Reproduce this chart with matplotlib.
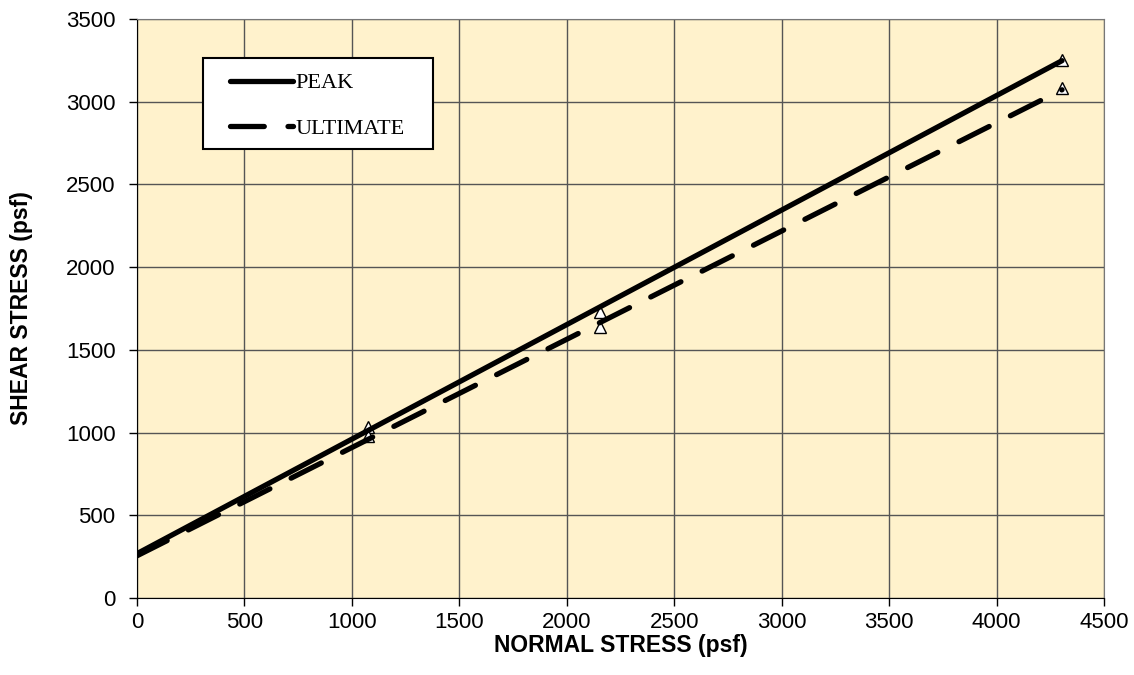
import matplotlib.pyplot as plt
from matplotlib.patches import Rectangle

# measured test points (normal stress vs shear stress, psf)
normal = [1075, 2155, 4305]
peak = [1034, 1729, 3252]
ultimate = [979, 1638, 3083]

# strength envelopes (straight line fits)
env_x = [0, 4305]
peak_env = [268, 3248]
ult_env = [255, 3072]

fig = plt.figure(figsize=(11.34, 6.75), dpi=100)
ax = fig.add_axes([0.1208, 0.1141, 0.8527, 0.8578])
ax.set_facecolor('#FFF2CC')

ax.plot(env_x, peak_env, color='black', lw=3.8, solid_capstyle='round',
        label='PEAK', zorder=4)
ax.plot(env_x, ult_env, color='black', lw=3.8, dashes=(6.4, 4.5),
        dash_capstyle='round', label='ULTIMATE', zorder=4)
ax.plot(normal, peak, ls='none', marker='^', ms=9, mfc='white', mec='black',
        mew=1, zorder=3)
ax.plot(normal, ultimate, ls='none', marker='^', ms=9, mfc='white', mec='black',
        mew=1, zorder=3)

ax.set_xlim(0, 4500)
ax.set_ylim(0, 3500)
ax.set_xticks(range(0, 4501, 500))
ax.set_yticks(range(0, 3501, 500))
ax.grid(True, color='#555555', lw=1)
ax.set_axisbelow(True)
for s in ['top', 'right']:
    ax.spines[s].set_color('#777777')
for s in ['left', 'bottom']:
    ax.spines[s].set_color('black')
ax.tick_params(direction='out', length=6, width=1, labelsize=16)
ax.tick_params(axis='x', pad=4)
ax.tick_params(axis='y', pad=9.5)
for t in ax.get_xticklabels() + ax.get_yticklabels():
    t.set_fontfamily('Liberation Sans')

ax.set_xlabel('NORMAL STRESS (psf)', fontsize=16.5, fontweight='bold',
              family='Liberation Sans', labelpad=1)
ax.set_ylabel('SHEAR STRESS (psf)', fontsize=16.5, fontweight='bold',
              family='Liberation Sans', labelpad=24)

# legend frame drawn separately so its padding matches
frame = Rectangle((0.0683, 0.7755), 0.2378, 0.1571, transform=ax.transAxes,
                  facecolor='white', edgecolor='black', lw=1.5, zorder=5)
ax.add_patch(frame)
leg = ax.legend(loc='upper left', bbox_to_anchor=(0.0962, 0.907),
                borderaxespad=0, frameon=False, borderpad=0,
                handlelength=2.85, handletextpad=0.1, labelspacing=1.12,
                prop={'family': 'Liberation Serif', 'size': 16})
leg.set_zorder(6)

fig.savefig('out.png')
